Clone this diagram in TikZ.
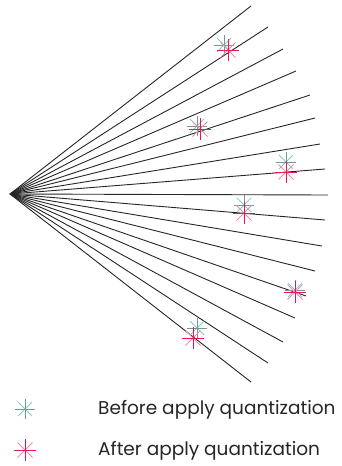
\documentclass[tikz,border=0pt]{standalone}
\usepackage{fontspec}
\setmainfont{Poppins}
\definecolor{crim}{RGB}{232,20,85}
\definecolor{pinkl}{RGB}{245,140,170}
\definecolor{tealg}{RGB}{120,150,150}
\definecolor{teall}{RGB}{130,205,200}
\begin{document}
\begin{tikzpicture}[x=1pt,y=-1pt,
  ray/.style={draw=black!85, line width=0.9pt},
  legend/.style={anchor=west, inner sep=0pt, font=\fontsize{18.5}{20}\selectfont, text=black!85},
  pics/before/.style={code={
    \draw[teall, line width=0.9pt] (-7,-7)--(7,7) (-7,7)--(7,-7);
    \draw[tealg, line width=0.9pt] (-10,0)--(10,0) (0,-10)--(0,10);}},
  pics/after/.style={code={
    \draw[pinkl, line width=0.9pt] (-7.5,-7.5)--(7.5,7.5) (-7.5,7.5)--(7.5,-7.5);
    \draw[crim, line width=1pt] (-11,0)--(11,0) (0,-11)--(0,11);}},
]
\useasboundingbox (0,0) rectangle (341,466);
\coordinate (apex) at (10,194);
\foreach \n/\x/\y in {1/251/6, 2/268/27, 3/283/49, 4/296/71, 5/310/95, 6/315/118, 7/320/144, 8/325/169, 9/328/195,
  10/325/220, 11/322/246, 12/315/271, 13/306/296, 14/295/318, 15/283/342, 16/268/363, 17/251/382}
  {\coordinate (e\n) at (\x,\y); \draw[ray] (apex) -- (e\n);}
% markers
\pic at (224,45) {before};
\pic at (228,50) {after};
\pic at (197,126) {before};
\pic at (200,129) {after};
\pic at (286,162) {before};
\pic at (286,172) {after};
\pic at (244,205) {before};
\pic at (244,213) {after};
\pic at (295,290) {before};
\pic at (295,292) {after};
\pic at (197,328) {before};
\pic at (193,338) {after};
% legend
\pic at (25,409) {before};
\pic at (25,450) {after};
\node[legend] (lb) at (98,410) {Before apply quantization};
\node[legend] (la) at (98,451) {After apply quantization};
\end{tikzpicture}
\end{document}
